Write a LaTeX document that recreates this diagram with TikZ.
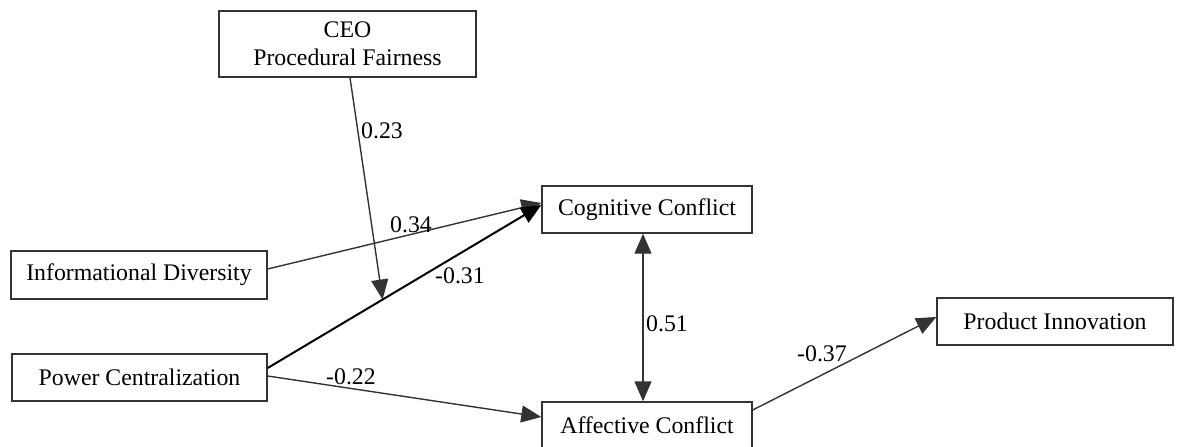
\documentclass[tikz,border=0pt]{standalone}
\usepackage{fontspec}
\setmainfont{Liberation Serif}
\usetikzlibrary{arrows.meta,calc}
\definecolor{ln}{HTML}{333333}
\tikzset{
  box/.style={draw=ln, line width=1.4pt, rectangle, inner sep=0pt, align=center, fill=white},
  path/.style={draw=ln, line width=1.4pt, -{Triangle[length=20pt,width=17pt]}},
  bipath/.style={draw=ln, line width=1.4pt, {Triangle[length=20pt,width=17pt]}-{Triangle[length=20pt,width=17pt]}},
  strong/.style={draw=black, line width=2pt, -{Triangle[length=20pt,width=17pt]}},
  lbl/.style={inner sep=0pt}
}
\begin{document}
\begin{tikzpicture}[x=1pt,y=-1pt,font=\fontsize{23.8}{28}\selectfont]
\useasboundingbox (0,0) rectangle (1181,447);
\node[box, minimum width=257pt, minimum height=66pt] (ceo) at (347.5,44) {CEO\\Procedural Fairness};
\node[box, minimum width=210pt, minimum height=47pt] (cog) at (647,209.5) {Cognitive Conflict};
\node[box, minimum width=256pt, minimum height=48pt] (info) at (139,275) {Informational Diversity};
\node[box, minimum width=255pt, minimum height=47pt] (pow) at (139.5,377.5) {Power Centralization};
\node[box, minimum width=210pt, minimum height=47pt] (aff) at (647,425.5) {Affective Conflict};
\node[box, minimum width=236pt, minimum height=47pt] (prod) at (1055,321.5) {Product Innovation};

\draw[path] ($(info.east)+(0,-6)$) -- ($(cog.west)+(0,-6.5)$);
\draw[strong] ($(pow.east)+(0,-9.5)$) -- coordinate[pos=0.42] (mod) ($(cog.west)+(0,-4.5)$);
\draw[path] ($(ceo.south)+(2.5,0)$) -- (mod);
\draw[path] ($(pow.east)+(0,-1.5)$) -- ($(aff.west)+(0,-8.5)$);
\draw[bipath] ($(cog.south)+(-4,0)$) -- ($(aff.north)+(-4,0)$);
\draw[path] ($(aff.east)+(0,-15.5)$) -- ($(prod.west)+(0,-4.5)$);

\node[lbl] (l1) at (382,131) {0.23};
\node[lbl] (l2) at (411,225) {0.34};
\node[lbl] (l3) at (460,276) {-0.31};
\node[lbl] (l4) at (351,377) {-0.22};
\node[lbl] (l5) at (667,324) {0.51};
\node[lbl] (l6) at (822,354) {-0.37};
\end{tikzpicture}
\end{document}
